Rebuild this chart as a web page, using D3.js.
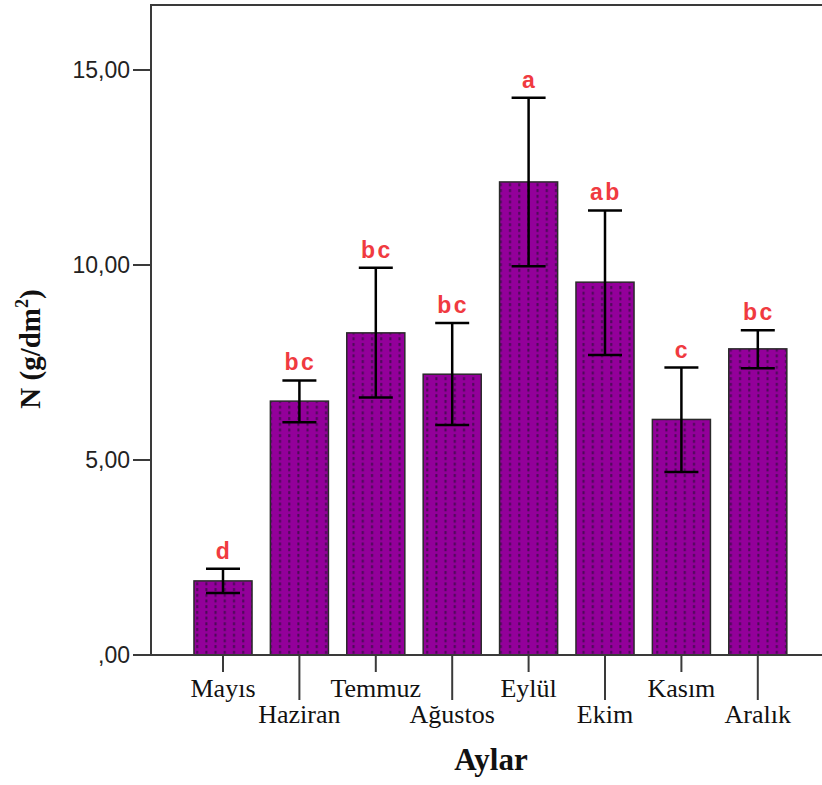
<!DOCTYPE html>
<html>
<head>
<meta charset="utf-8">
<script src="https://cdn.jsdelivr.net/npm/d3@7"></script>
<style>
  html, body { margin: 0; padding: 0; background: #fff; }
  svg { display: block; }
</style>
</head>
<body>
<svg id="chart" width="822" height="785"></svg>
<script>
// Monthly nitrogen means with error bar bounds and significance groups
const months = ["Mayıs", "Haziran", "Temmuz", "Ağustos", "Eylül", "Ekim", "Kasım", "Aralık"];
const means  = [1.90, 6.51, 8.26, 7.20, 12.13, 9.56, 6.04, 7.85];
const upper  = [2.21, 7.04, 9.93, 8.51, 14.29, 11.40, 7.37, 8.33];
const lower  = [1.59, 5.97, 6.60, 5.90, 9.97, 7.69, 4.69, 7.35];
const groups = ["d", "bc", "bc", "bc", "a", "ab", "c", "bc"];
const yTicks = [0, 5, 10, 15];
const yTickLabels = [",00", "5,00", "10,00", "15,00"];

const svg = d3.select("#chart");
const plotLeft = 151, plotTop = 5, plotBottom = 655;

const y = d3.scaleLinear().domain([0, 16.667]).range([plotBottom, plotTop]);
const x = d3.scaleBand().domain(months).range([184.8, 796]).paddingInner(0.24).paddingOuter(0.12);

// dotted fill for the bars
const defs = svg.append("defs");
const pat = defs.append("pattern")
  .attr("id", "dots").attr("patternUnits", "userSpaceOnUse")
  .attr("width", 9.2).attr("height", 5.7);
pat.append("rect").attr("width", 9.2).attr("height", 5.7).attr("fill", "#93009a");
pat.append("rect").attr("x", 3).attr("y", 1).attr("width", 2).attr("height", 3).attr("fill", "#4a0a55");

// frame
svg.append("path")
  .attr("d", `M${plotLeft},${plotBottom} V${plotTop} H830`)
  .attr("fill", "none").attr("stroke", "#3a3a3a").attr("stroke-width", 2);

// bars
svg.append("g").selectAll("rect").data(months).join("rect")
  .attr("x", d => x(d))
  .attr("y", (d, i) => y(means[i]))
  .attr("width", x.bandwidth())
  .attr("height", (d, i) => y(0) - y(means[i]))
  .attr("fill", "url(#dots)")
  .attr("stroke", "#2a2a2a").attr("stroke-width", 1.5);

// x axis line and staggered ticks
svg.append("line").attr("x1", plotLeft).attr("x2", 822).attr("y1", plotBottom).attr("y2", plotBottom)
  .attr("stroke", "#3a3a3a").attr("stroke-width", 2);
const cx = d => x(d) + x.bandwidth() / 2;
svg.append("g").selectAll("line").data(months).join("line")
  .attr("x1", cx).attr("x2", cx)
  .attr("y1", plotBottom).attr("y2", (d, i) => i % 2 ? 700 : 672)
  .attr("stroke", "#3a3a3a").attr("stroke-width", 2);
svg.append("g").selectAll("text").data(months).join("text")
  .attr("x", cx)
  .attr("y", (d, i) => i % 2 ? 723 : 697)
  .attr("text-anchor", "middle")
  .attr("font-family", "Liberation Serif, serif")
  .attr("font-size", 26)
  .attr("fill", "#111")
  .text(d => d);

// y axis ticks
const yAxis = svg.append("g");
yAxis.selectAll("line").data(yTicks).join("line")
  .attr("x1", 133).attr("x2", plotLeft).attr("y1", d => y(d)).attr("y2", d => y(d))
  .attr("stroke", "#3a3a3a").attr("stroke-width", 2);
yAxis.selectAll("text").data(yTicks).join("text")
  .attr("x", 130).attr("y", d => y(d)).attr("dy", "0.36em")
  .attr("text-anchor", "end")
  .attr("font-family", "Liberation Sans, sans-serif")
  .attr("font-size", 23)
  .attr("fill", "#222")
  .text((d, i) => yTickLabels[i]);

// error bars
const eb = svg.append("g").attr("stroke", "#000").attr("stroke-width", 2.5);
months.forEach((m, i) => {
  const c = cx(m);
  eb.append("line").attr("x1", c).attr("x2", c).attr("y1", y(upper[i])).attr("y2", y(lower[i]));
  eb.append("line").attr("x1", c - 17).attr("x2", c + 17).attr("y1", y(upper[i])).attr("y2", y(upper[i]));
  eb.append("line").attr("x1", c - 17).attr("x2", c + 17).attr("y1", y(lower[i])).attr("y2", y(lower[i]));
});

// significance letters
svg.append("g").selectAll("text").data(months).join("text")
  .attr("x", d => cx(d) + 1)
  .attr("y", (d, i) => y(upper[i]) - 10)
  .attr("text-anchor", "middle")
  .attr("font-family", "Liberation Sans, sans-serif")
  .attr("font-weight", "bold")
  .attr("font-size", 23)
  .attr("letter-spacing", 2.5)
  .attr("fill", "#f03a40")
  .text((d, i) => groups[i]);

// axis titles
svg.append("text")
  .attr("x", 491).attr("y", 770)
  .attr("text-anchor", "middle")
  .attr("font-family", "Liberation Serif, serif")
  .attr("font-weight", "bold")
  .attr("font-size", 31)
  .attr("fill", "#111")
  .text("Aylar");

const yt = svg.append("text")
  .attr("transform", "translate(40,349) rotate(-90)")
  .attr("text-anchor", "middle")
  .attr("font-family", "Liberation Serif, serif")
  .attr("font-weight", "bold")
  .attr("font-size", 29)
  .attr("fill", "#111");
yt.append("tspan").text("N (g/dm");
yt.append("tspan").attr("font-size", 18).attr("dy", -12).text("2");
yt.append("tspan").attr("dy", 12).text(")");
</script>
</body>
</html>
